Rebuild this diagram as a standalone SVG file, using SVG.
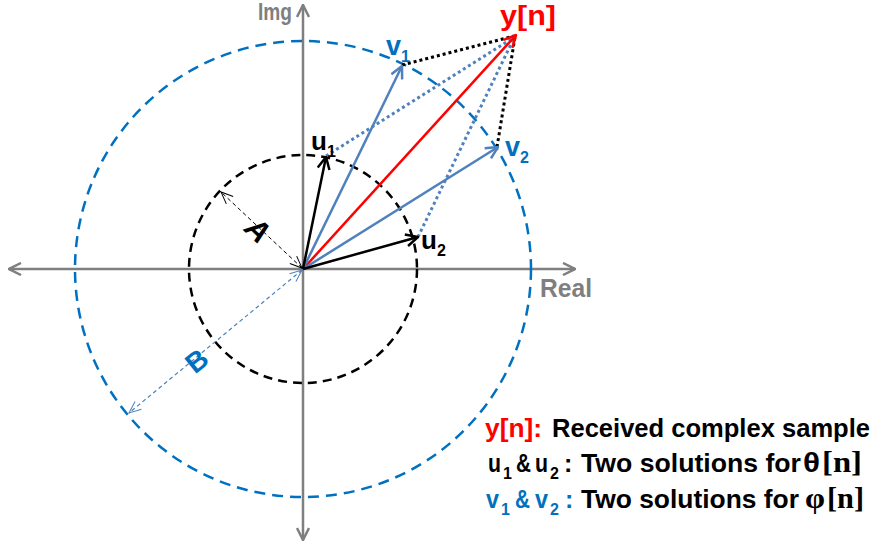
<svg xmlns="http://www.w3.org/2000/svg" width="877" height="546" viewBox="0 0 877 546">
<style>
  .lbl{font-family:"Liberation Sans",Arial,sans-serif;font-weight:bold;}
  .ser{font-family:"Liberation Serif","Times New Roman",serif;font-weight:bold;}
  .axis{stroke:#7f7f7f;stroke-width:2.5;fill:none;}
  .vb{stroke:#4f81bd;stroke-width:2.5;fill:none;}
  .vk{stroke:#000;stroke-width:2.5;fill:none;}
  .vr{stroke:#ff0000;stroke-width:2.5;fill:none;}
  .dotk{stroke:#000;stroke-width:3;stroke-dasharray:3 3;fill:none;}
  .dotb{stroke:#4f81bd;stroke-width:3;stroke-dasharray:3 3;fill:none;}
</style>
<defs>
  <marker id="ag" viewBox="0 0 14 14" refX="13" refY="7" markerWidth="14" markerHeight="14" markerUnits="userSpaceOnUse" orient="auto-start-reverse"><path d="M1,1 L13,7 L1,13" fill="none" stroke="#7f7f7f" stroke-width="2.5"/></marker>
  <marker id="ab" viewBox="0 0 14 14" refX="13" refY="7" markerWidth="14" markerHeight="14" markerUnits="userSpaceOnUse" orient="auto"><path d="M1,1 L13,7 L1,13" fill="none" stroke="#4f81bd" stroke-width="2.5"/></marker>
  <marker id="ak" viewBox="0 0 14 14" refX="13" refY="7" markerWidth="14" markerHeight="14" markerUnits="userSpaceOnUse" orient="auto"><path d="M1,1 L13,7 L1,13" fill="none" stroke="#000" stroke-width="2.5"/></marker>
  <marker id="ar" viewBox="0 0 14 14" refX="13" refY="7" markerWidth="14" markerHeight="14" markerUnits="userSpaceOnUse" orient="auto"><path d="M1,1 L13,7 L1,13" fill="none" stroke="#ff0000" stroke-width="2.5"/></marker>
  <marker id="dk" viewBox="0 0 14 14" refX="13" refY="7" markerWidth="14" markerHeight="14" markerUnits="userSpaceOnUse" orient="auto-start-reverse"><path d="M1,2 L13,7 L1,12" fill="none" stroke="#000" stroke-width="1"/></marker>
  <marker id="db" viewBox="0 0 14 14" refX="13" refY="7" markerWidth="14" markerHeight="14" markerUnits="userSpaceOnUse" orient="auto-start-reverse"><path d="M1,2 L13,7 L1,12" fill="none" stroke="#4f81bd" stroke-width="1"/></marker>
</defs>

<g id="axes">
  <line class="axis" x1="9" y1="269" x2="575" y2="269" marker-start="url(#ag)" marker-end="url(#ag)"/>
  <line class="axis" x1="303" y1="5" x2="303" y2="540" marker-start="url(#ag)" marker-end="url(#ag)"/>
  <text class="lbl" x="258" y="20" font-size="23" fill="#7f7f7f" textLength="34" lengthAdjust="spacingAndGlyphs">Img</text>
  <text class="lbl" x="540" y="297" font-size="25" fill="#7f7f7f" textLength="52" lengthAdjust="spacingAndGlyphs">Real</text>
</g>

<g id="circles">
  <circle id="circle-A" cx="303" cy="269" r="114" fill="none" stroke="#000" stroke-width="2.5" stroke-dasharray="9 6"/>
  <circle id="circle-B" cx="303" cy="269" r="228" fill="none" stroke="#0070c0" stroke-width="2.5" stroke-dasharray="11 7"/>
</g>

<g id="connectors">
  <line class="dotk" x1="402" y1="65" x2="514" y2="36"/>
  <line class="dotk" x1="497" y1="147" x2="515" y2="37"/>
  <line class="dotb" x1="326" y1="156" x2="513" y2="38"/>
  <line class="dotb" x1="418" y1="237" x2="514" y2="38"/>
  <line class="vr" x1="303" y1="269" x2="516" y2="35" marker-end="url(#ar)"/>
  <line class="vb" x1="303" y1="269" x2="402" y2="66" marker-end="url(#ab)"/>
  <line class="vb" x1="303" y1="269" x2="498" y2="147" marker-end="url(#ab)"/>
  <line class="vk" x1="303" y1="269" x2="326" y2="157" marker-end="url(#ak)"/>
  <line class="vk" x1="303" y1="269" x2="418" y2="237" marker-end="url(#ak)"/>
  <line x1="302" y1="268" x2="221" y2="192" stroke="#000" stroke-width="1" stroke-dasharray="4 3" marker-start="url(#dk)" marker-end="url(#dk)"/>
  <line x1="302" y1="270" x2="129" y2="413" stroke="#4f81bd" stroke-width="1.2" stroke-dasharray="4 3" marker-start="url(#db)" marker-end="url(#db)"/>
</g>

<g id="node-y">
  <text class="lbl" x="500" y="25" font-size="27" fill="#ff0000" textLength="56" lengthAdjust="spacingAndGlyphs">y[n]</text>
</g>
<g id="node-v1">
  <text class="lbl" x="386" y="55" font-size="27" fill="#0070c0">v<tspan font-size="16" dy="7">1</tspan></text>
</g>
<g id="node-v2">
  <text class="lbl" x="505" y="156" font-size="27" fill="#0070c0">v<tspan font-size="16" dy="7">2</tspan></text>
</g>
<g id="node-u1">
  <text class="lbl" x="311" y="150" font-size="26" fill="#000">u<tspan font-size="16" dy="7">1</tspan></text>
</g>
<g id="node-u2">
  <text class="lbl" x="421" y="249" font-size="26" fill="#000">u<tspan font-size="16" dy="7">2</tspan></text>
</g>
<g id="label-A">
  <text class="lbl" font-style="italic" font-size="30" fill="#000" transform="translate(258,230) rotate(43)" text-anchor="middle" dominant-baseline="central">A</text>
</g>
<g id="label-B">
  <text class="lbl" font-size="28" fill="#0070c0" transform="translate(197,361) rotate(-39)" text-anchor="middle" dominant-baseline="central">B</text>
</g>

<g id="legend" font-size="25">
  <text class="lbl" x="485" y="437" fill="#ff0000" textLength="57" lengthAdjust="spacingAndGlyphs">y[n]:</text>
  <text class="lbl" x="552" y="437" fill="#000" textLength="318" lengthAdjust="spacingAndGlyphs">Received complex sample</text>

  <g fill="#000">
    <text class="lbl" x="488" y="472" textLength="13" lengthAdjust="spacingAndGlyphs">u</text>
    <text class="lbl" x="503" y="479" font-size="16">1</text>
    <text class="lbl" x="516" y="472" textLength="15" lengthAdjust="spacingAndGlyphs">&amp;</text>
    <text class="lbl" x="535" y="472" textLength="13" lengthAdjust="spacingAndGlyphs">u</text>
    <text class="lbl" x="550" y="479" font-size="16">2</text>
    <text class="lbl" x="564" y="472">:</text>
    <text class="lbl" x="581" y="472" textLength="220" lengthAdjust="spacingAndGlyphs">Two solutions for</text>
    <text class="lbl" x="803" y="472" font-size="28" textLength="17" lengthAdjust="spacingAndGlyphs">θ</text>
    <text class="ser" x="822" y="472" font-size="30" textLength="40" lengthAdjust="spacingAndGlyphs">[n]</text>
  </g>

  <g fill="#0070c0">
    <text class="lbl" x="486" y="508" textLength="13" lengthAdjust="spacingAndGlyphs">v</text>
    <text class="lbl" x="501" y="515" font-size="16">1</text>
    <text class="lbl" x="515" y="508" textLength="15" lengthAdjust="spacingAndGlyphs">&amp;</text>
    <text class="lbl" x="535" y="508" textLength="13" lengthAdjust="spacingAndGlyphs">v</text>
    <text class="lbl" x="550" y="515" font-size="16">2</text>
    <text class="lbl" x="565" y="508">:</text>
  </g>
  <g fill="#000">
    <text class="lbl" x="581" y="508" textLength="218" lengthAdjust="spacingAndGlyphs">Two solutions for</text>
    <text class="ser" x="805" y="508" font-size="30" textLength="20" lengthAdjust="spacingAndGlyphs">φ</text>
    <text class="ser" x="827" y="508" font-size="30" textLength="37" lengthAdjust="spacingAndGlyphs">[n]</text>
  </g>
</g>
</svg>
